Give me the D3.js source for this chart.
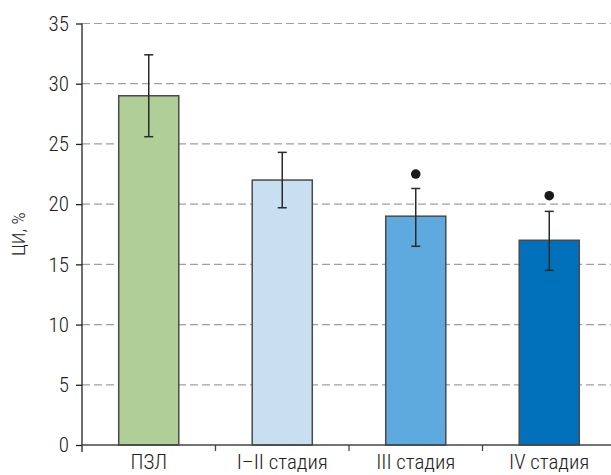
<!DOCTYPE html>
<html><head><meta charset="utf-8">
<script src="https://cdn.jsdelivr.net/npm/d3@7"></script>
<style>
body{margin:0;background:#fff;}
text{font-family:"Liberation Sans Narrow","Roboto Condensed","Liberation Sans",Arial,sans-serif;font-stretch:condensed;}
</style></head>
<body><svg id="c" width="611" height="475"></svg>
<script>
const categories = ["ПЗЛ", "I–II стадия", "III стадия", "IV стадия"];
const values = [29, 22, 19, 17];
const errLow = [25.6, 19.7, 16.5, 14.5];
const errHigh = [32.4, 24.3, 21.3, 19.4];
const markers = [null, null, 22.5, 20.7];
const colors = ["#b0cf98", "#c8dff2", "#5ea9dd", "#0070ba"];
const yTicks = [0, 5, 10, 15, 20, 25, 30, 35];

(function () {
const svg = d3.select("#c");
const mLeft = 82, mRight = 616, mTop = 23.5, mBottom = 445;
const x = d3.scaleBand().domain(categories).range([mLeft, mRight]).paddingInner(0.55).paddingOuter(0.275);
const xb = d3.scaleBand().domain(categories).range([mLeft, mRight]);
const y = d3.scaleLinear().domain([0, 35]).range([mBottom, mTop]);

// gridlines
svg.append("g").selectAll("line").data(yTicks.filter(d => d > 0)).join("line")
  .attr("x1", mLeft).attr("x2", 611).attr("y1", d => y(d)).attr("y2", d => y(d))
  .attr("stroke", "#a0a0a0").attr("stroke-width", 1.2).attr("stroke-dasharray", "8,4");

// y axis
const ya = svg.append("g").attr("transform", `translate(${mLeft},0)`)
  .call(d3.axisLeft(y).tickValues(yTicks).tickSize(6).tickPadding(7));
ya.select(".domain").attr("d", `M0,${mTop}V${mBottom + 7}`).attr("stroke", "#222").attr("stroke-width", 1.3);
ya.selectAll(".tick line").attr("stroke", "#222").attr("stroke-width", 1.3);
ya.selectAll(".tick text").attr("font-size", 21).attr("fill", "#222").attr("font-weight", 300)
  .attr("font-family", null);

// bars
svg.append("g").selectAll("rect").data(categories).join("rect")
  .attr("x", d => x(d)).attr("width", x.bandwidth())
  .attr("y", (d, i) => y(values[i])).attr("height", (d, i) => y(0) - y(values[i]))
  .attr("fill", (d, i) => colors[i]).attr("stroke", "#4a4a4a").attr("stroke-width", 1.5);

// x axis
svg.append("line").attr("x1", mLeft).attr("x2", 611).attr("y1", y(0)).attr("y2", y(0))
  .attr("stroke", "#444").attr("stroke-width", 1.5);
svg.append("g").selectAll("line").data(categories.slice(1)).join("line")
  .attr("x1", d => xb(d)).attr("x2", d => xb(d)).attr("y1", y(0)).attr("y2", y(0) + 6)
  .attr("stroke", "#444").attr("stroke-width", 1.3);
svg.append("g").selectAll("text").data(categories).join("text")
  .attr("x", d => xb(d) + xb.bandwidth() / 2).attr("y", y(0) + 24)
  .attr("text-anchor", "middle").attr("font-size", 21).attr("font-weight", 300).attr("fill", "#222")
  .text(d => d);

// error bars
const eb = svg.append("g").attr("stroke", "#2a2a2a").attr("stroke-width", 1.5);
categories.forEach((c, i) => {
  const cx = x(c) + x.bandwidth() / 2;
  eb.append("line").attr("x1", cx).attr("x2", cx).attr("y1", y(errLow[i])).attr("y2", y(errHigh[i]));
  eb.append("line").attr("x1", cx - 4.5).attr("x2", cx + 4.5).attr("y1", y(errLow[i])).attr("y2", y(errLow[i]));
  eb.append("line").attr("x1", cx - 4.5).attr("x2", cx + 4.5).attr("y1", y(errHigh[i])).attr("y2", y(errHigh[i]));
});

// markers
svg.append("g").selectAll("circle").data(categories.filter((c, i) => markers[i] !== null)).join("circle")
  .attr("cx", d => x(d) + x.bandwidth() / 2)
  .attr("cy", d => y(markers[categories.indexOf(d)]))
  .attr("r", 4.8).attr("fill", "#1a1a1a");

// y label
svg.append("text").attr("transform", `translate(25,${(mTop + mBottom) / 2}) rotate(-90)`)
  .attr("text-anchor", "middle").attr("font-size", 19).attr("font-weight", 300).attr("fill", "#222").text("ЦИ, %");
})();
</script></body></html>
